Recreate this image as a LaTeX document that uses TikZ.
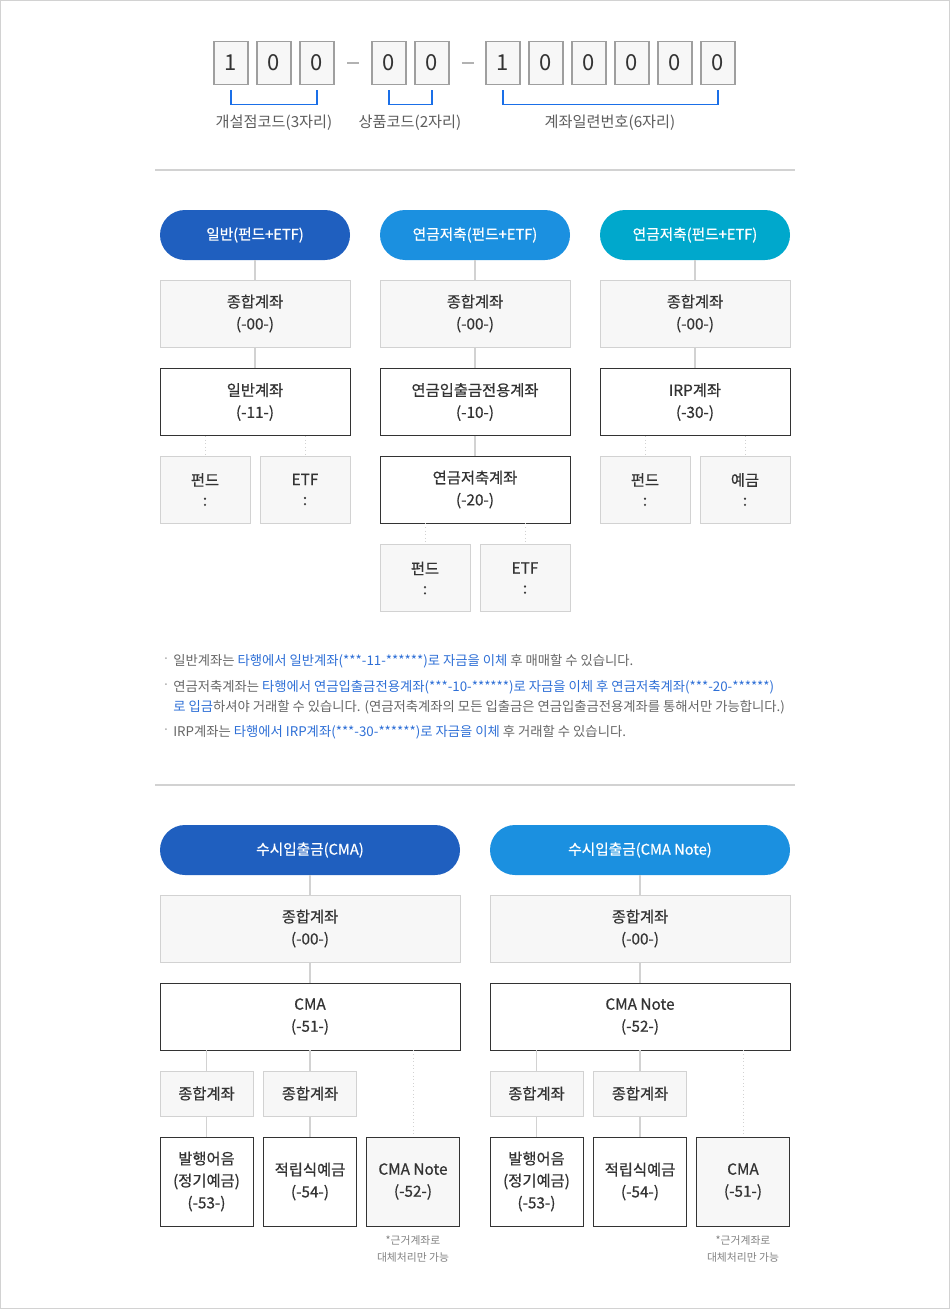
\documentclass[tikz,border=0pt]{standalone}
\usepackage{fontspec}
\setmainfont{Noto Sans CJK KR}
\newfontfamily\medfont[FakeBold=0.6]{Noto Sans CJK KR}
\usetikzlibrary{positioning,calc}
\definecolor{nblue}{HTML}{1F5FBF}
\definecolor{sblue}{HTML}{1B90E0}
\definecolor{ncyan}{HTML}{00A8CC}
\definecolor{lblue}{HTML}{2E6FD6}
\definecolor{bline}{HTML}{1A6FE8}
\definecolor{ngray}{HTML}{D2D2D2}
\definecolor{nfill}{HTML}{F7F7F7}
\definecolor{ntext}{HTML}{333333}
\definecolor{ttext}{HTML}{666666}

\begin{document}
\begin{tikzpicture}[x=0.75pt,y=-0.75pt,
   digit/.style={draw=gray!75, line width=1.1pt, fill=nfill, minimum width=25.5pt, minimum height=32pt, inner sep=0pt, font=\fontsize{16.5}{16.5}\selectfont, text=ntext},
   lab/.style={text=ttext!90!black, font=\fontsize{11.4}{13}\selectfont},
   brk/.style={draw=bline, line width=0.8pt},
   sep/.style={draw=ngray, line width=0.8pt},
   pill/.style={rounded corners=18.75pt, minimum height=37.5pt, inner sep=0pt, text=white, font=\medfont\fontsize{11}{12}\selectfont},
   gbox/.style={draw=ngray, fill=nfill, align=center, inner sep=0pt, text=ntext, font=\medfont\fontsize{11.5}{16.5}\selectfont},
   wbox/.style={draw=ntext, fill=white, align=center, inner sep=0pt, text=ntext, font=\medfont\fontsize{11.5}{16.5}\selectfont},
   big/.style={minimum width=142.5pt, minimum height=50.5pt},
   small/.style={minimum width=67.5pt, minimum height=50.5pt, font=\medfont\fontsize{11.5}{15}\selectfont},
   wide/.style={minimum width=225pt, minimum height=50.5pt},
   csmall/.style={minimum width=69.75pt, minimum height=33.75pt},
   ctall/.style={minimum width=69.75pt, minimum height=66.75pt},
   link/.style={draw=ngray, line width=0.8pt},
   dots/.style={draw=ngray, line width=0.7pt, dotted},
   note/.style={text=ttext, font=\fontsize{10}{12}\selectfont, inner sep=0pt},
   fnote/.style={text=gray, align=center, font=\fontsize{8.1}{12.75}\selectfont, inner sep=0pt}]
  \useasboundingbox (0,0) rectangle (950,1309);
  \draw[ngray] (0.5,0.5) rectangle (949.5,1308.5);
  % account number
  \foreach \x/\d [count=\i] in {231/1,274/0,317/0,389/0,432/0,503/1,546/0,589/0,632/0,675/0,718/0}
    \node[digit] (d\i) at (\x,63) {\d};
  \draw[gray!60, line width=1.5pt] ($(d3.east)!0.5!(d4.west)$) +(-6,0) -- +(6,0);
  \draw[gray!60, line width=1.5pt] ($(d5.east)!0.5!(d6.west)$) +(-6,0) -- +(6,0);
  \draw[brk] ([yshift=-3.75pt]d1.south) -- ++(0,14) -| ([yshift=-3.75pt]d3.south);
  \draw[brk] ([yshift=-3.75pt]d4.south) -- ++(0,14) -| ([yshift=-3.75pt]d5.south);
  \draw[brk] ([yshift=-3.75pt]d6.south) -- ++(0,14) -| ([yshift=-3.75pt]d11.south);
  \node[lab] (l1) at (274,123) {개설점코드(3자리)};
  \node[lab] (l2) at (410,123) {상품코드(2자리)};
  \node[lab] (l3) at (610,123) {계좌일련번호(6자리)};
  \draw[sep] (155,170) -- (795,170);
  % fund / pension / IRP
  \foreach \x/\c/\t [count=\i] in {255/nblue/일반(펀드+ETF),475/sblue/연금저축(펀드+ETF),695/ncyan/연금저축(펀드+ETF)} {
    \node[pill, fill=\c, minimum width=142.5pt] (p\i) at (\x,235) {\t};
    \node[gbox, big] (t\i) at (\x,313.5) {종합계좌\\(-00-)};
    \draw[link] (p\i) -- (t\i);
  }
  \node[wbox, big] (w1) at (255,402) {일반계좌\\(-11-)};
  \node[wbox, big] (w2) at (475,402) {연금입출금전용계좌\\(-10-)};
  \node[wbox, big] (w3) at (695,402) {IRP계좌\\(-30-)};
  \node[wbox, big] (w4) at (475,489.5) {연금저축계좌\\(-20-)};
  \draw[link] (t1) -- (w1);
  \draw[link] (t2) -- (w2);
  \draw[link] (t3) -- (w3);
  \draw[link] (w2) -- (w4);
  \node[gbox, small] (f1) at (205,489.5) {펀드\\:};
  \node[gbox, small] (e1) at (305,489.5) {ETF\\:};
  \node[gbox, small] (f2) at (425,578) {펀드\\:};
  \node[gbox, small] (e2) at (525,578) {ETF\\:};
  \node[gbox, small] (f3) at (645,489.5) {펀드\\:};
  \node[gbox, small] (e3) at (745,489.5) {예금\\:};
  \draw[dots] (w1.south -| f1) -- (f1.north);
  \draw[dots] (w1.south -| e1) -- (e1.north);
  \draw[dots] (w4.south -| f2) -- (f2.north);
  \draw[dots] (w4.south -| e2) -- (e2.north);
  \draw[dots] (w3.south -| f3) -- (f3.north);
  \draw[dots] (w3.south -| e3) -- (e3.north);
  % notes
  \foreach \y in {661,687,732}
    \node[note, text=gray!70, anchor=east] at (170,\y) {·};
  \node[note, anchor=west] (n1) at (173,661) {일반계좌는 {\color{lblue}타행에서 일반계좌(***-11-******)로 자금을 이체} 후 매매할 수 있습니다.};
  \node[note, anchor=west] (n2) at (173,687) {연금저축계좌는 {\color{lblue}타행에서 연금입출금전용계좌(***-10-******)로 자금을 이체 후 연금저축계좌(***-20-******)}};
  \node[note, anchor=west] (n3) at (173,707) {{\color{lblue}로 입금}하셔야 거래할 수 있습니다. (연금저축계좌의 모든 입출금은 연금입출금전용계좌를 통해서만 가능합니다.)};
  \node[note, anchor=west] (n4) at (173,732) {IRP계좌는 {\color{lblue}타행에서 IRP계좌(***-30-******)로 자금을 이체} 후 거래할 수 있습니다.};
  \draw[sep] (155,785) -- (795,785);
  % CMA
  \node[pill, fill=nblue, minimum width=225pt] (q1) at (310,850) {수시입출금(CMA)};
  \node[pill, fill=sblue, minimum width=225pt] (q2) at (640,850) {수시입출금(CMA Note)};
  \node[gbox, wide] (u1) at (310,928.5) {종합계좌\\(-00-)};
  \node[gbox, wide] (u2) at (640,928.5) {종합계좌\\(-00-)};
  \node[wbox, wide] (m1) at (310,1016.5) {CMA\\(-51-)};
  \node[wbox, wide] (m2) at (640,1016.5) {CMA Note\\(-52-)};
  \draw[link] (q1) -- (u1);
  \draw[link] (q2) -- (u2);
  \draw[link] (u1) -- (m1);
  \draw[link] (u2) -- (m2);
  \node[gbox, csmall] (k1) at (206.5,1093.5) {종합계좌};
  \node[gbox, csmall] (k2) at (310,1093.5) {종합계좌};
  \node[gbox, csmall] (k3) at (536.5,1093.5) {종합계좌};
  \node[gbox, csmall] (k4) at (640,1093.5) {종합계좌};
  \node[wbox, ctall] (b1) at (206.5,1181.5) {발행어음\\(정기예금)\\(-53-)};
  \node[wbox, ctall] (b2) at (310,1181.5) {적립식예금\\(-54-)};
  \node[wbox, ctall, fill=nfill] (b3) at (413,1181.5) {CMA Note\\(-52-)};
  \node[wbox, ctall] (b4) at (536.5,1181.5) {발행어음\\(정기예금)\\(-53-)};
  \node[wbox, ctall] (b5) at (640,1181.5) {적립식예금\\(-54-)};
  \node[wbox, ctall, fill=nfill] (b6) at (743,1181.5) {CMA\\(-51-)};
  \draw[link] (m1.south -| k1) -- (k1.north);
  \draw[link] (m1) -- (k2);
  \draw[link] (k1) -- (b1);
  \draw[link] (k2) -- (b2);
  \draw[dots] (m1.south -| b3) -- (b3.north);
  \draw[link] (m2.south -| k3) -- (k3.north);
  \draw[link] (m2) -- (k4);
  \draw[link] (k3) -- (b4);
  \draw[link] (k4) -- (b5);
  \draw[dots] (m2.south -| b6) -- (b6.north);
  \node[fnote, below=7pt of b3] (r1) {*근거계좌로\\대체처리만 가능};
  \node[fnote, below=7pt of b6] (r2) {*근거계좌로\\대체처리만 가능};
\end{tikzpicture}
\end{document}
